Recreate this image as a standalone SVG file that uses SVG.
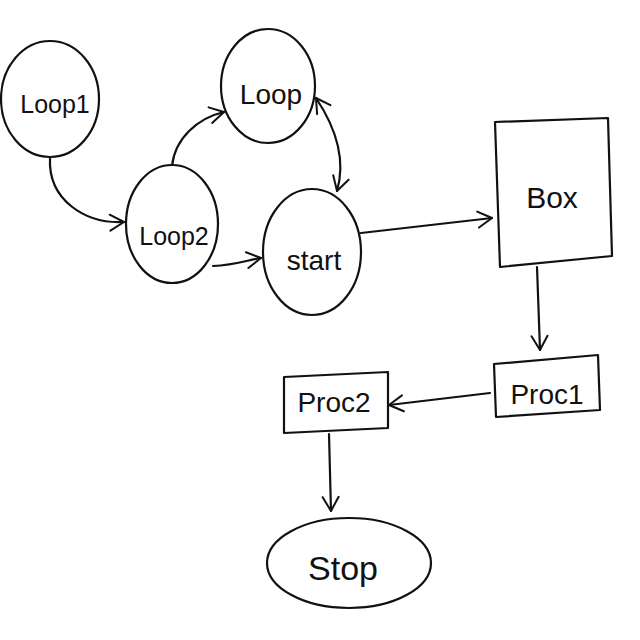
<svg xmlns="http://www.w3.org/2000/svg" width="640" height="640" viewBox="0 0 640 640">
<defs>
<marker id="arr" viewBox="0 0 20 20" refX="18" refY="10" markerWidth="20" markerHeight="20" markerUnits="userSpaceOnUse" orient="auto-start-reverse">
<path d="M4,2 L18,10 L4,18" fill="none" stroke="#111" stroke-width="2" stroke-linecap="round" stroke-linejoin="round"/>
</marker>
<style>
.s{fill:#fff;stroke:#111;stroke-width:2.2;stroke-linecap:round;stroke-linejoin:round}
.c{fill:none;stroke:#111;stroke-width:2.2;stroke-linecap:round}
.t{font-family:"Liberation Sans","DejaVu Sans",sans-serif;font-size:28px;fill:#111;text-anchor:middle}
.n{font-size:25px}
</style>
</defs>
<rect width="640" height="640" fill="#fff"/>
<g id="connectors">
<path class="c" d="M50,158 C48,200 85,224 124,222" marker-end="url(#arr)"/>
<path class="c" d="M172,166 C175,138 198,118 224,112" marker-end="url(#arr)"/>
<path class="c" d="M213,266 C235,265 248,260 261,258" marker-end="url(#arr)"/>
<path class="c" d="M316,98 C336,128 346,160 337,191" marker-start="url(#arr)" marker-end="url(#arr)"/>
<path class="c" d="M361,233 L492,218" marker-end="url(#arr)"/>
<path class="c" d="M537,267 L540,350" marker-end="url(#arr)"/>
<path class="c" d="M490,393 L389,405" marker-end="url(#arr)"/>
<path class="c" d="M329,434 L331,511" marker-end="url(#arr)"/>
</g>
<g id="loop1">
<ellipse class="s" cx="50" cy="99" rx="49" ry="58"/>
<text class="t n" x="55" y="113">Loop1</text>
</g>
<g id="loop">
<ellipse class="s" cx="268" cy="86" rx="47" ry="57"/>
<text class="t" x="271" y="104">Loop</text>
</g>
<g id="loop2">
<ellipse class="s" cx="172" cy="224" rx="46" ry="59"/>
<text class="t n" x="174" y="245">Loop2</text>
</g>
<g id="start">
<ellipse class="s" cx="312" cy="252" rx="49" ry="63"/>
<text class="t" x="314" y="270">start</text>
</g>
<g id="box">
<path class="s" d="M495,122 L608,118 L612,256 L500,267 Z"/>
<text class="t" x="552" y="208" style="font-size:30px">Box</text>
</g>
<g id="proc1">
<path class="s" d="M494,364 L598,355 L600,410 L496,417 Z"/>
<text class="t" x="547" y="404">Proc1</text>
</g>
<g id="proc2">
<path class="s" d="M284,377 L388,372 L388,428 L284,433 Z"/>
<text class="t" x="334" y="412">Proc2</text>
</g>
<g id="stop">
<ellipse class="s" cx="349" cy="563" rx="82" ry="45"/>
<text class="t" x="343" y="580" style="font-size:34px">Stop</text>
</g>
</svg>
